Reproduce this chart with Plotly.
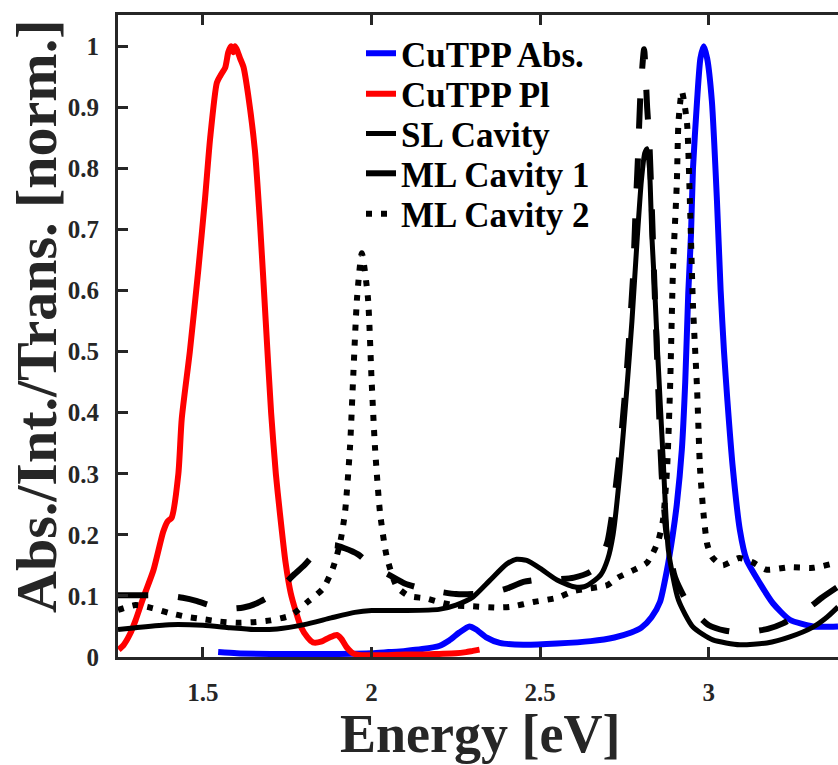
import plotly.graph_objects as go

# ---------------- data ----------------
abs_E = [1.545, 1.6, 1.7, 1.8, 1.9, 2.0, 2.05, 2.1, 2.15, 2.2, 2.23, 2.26, 2.29, 2.31, 2.34,
         2.38, 2.45, 2.55, 2.65, 2.72, 2.77, 2.80, 2.83, 2.855, 2.875, 2.893, 2.905, 2.92,
         2.93, 2.939, 2.947, 2.953, 2.965, 2.975, 2.985, 2.995, 3.009, 3.024, 3.035, 3.045,
         3.055, 3.071, 3.092, 3.112, 3.151, 3.19, 3.24, 3.309, 3.383]
abs_v = [0.008, 0.006, 0.005, 0.005, 0.005, 0.006, 0.008, 0.010, 0.013, 0.018, 0.027, 0.040,
         0.050, 0.045, 0.032, 0.023, 0.020, 0.022, 0.026, 0.032, 0.040, 0.048, 0.065, 0.090,
         0.140, 0.200, 0.250, 0.340, 0.450, 0.596, 0.690, 0.800, 0.910, 0.980, 1.000, 0.980,
         0.910, 0.748, 0.600, 0.500, 0.420, 0.310, 0.208, 0.159, 0.121, 0.088, 0.061, 0.050,
         0.050]

pl_E = [1.25, 1.265, 1.284, 1.30, 1.323, 1.353, 1.382, 1.395, 1.407, 1.427, 1.437, 1.461,
        1.486, 1.506, 1.521, 1.541, 1.552, 1.566, 1.575, 1.583, 1.590, 1.595, 1.600, 1.610,
        1.620, 1.634, 1.654, 1.669, 1.686, 1.702, 1.716, 1.728, 1.745, 1.760, 1.775, 1.79,
        1.81, 1.826, 1.85, 1.875, 1.897, 1.91, 1.926, 1.945, 1.97, 2.0, 2.05, 2.1, 2.15,
        2.2, 2.25, 2.28, 2.30, 2.32]
pl_v = [0.012, 0.020, 0.038, 0.060, 0.097, 0.142, 0.205, 0.222, 0.228, 0.300, 0.390, 0.500,
        0.633, 0.750, 0.848, 0.940, 0.952, 0.965, 0.990, 1.000, 0.990, 1.000, 0.995, 0.980,
        0.966, 0.920, 0.829, 0.711, 0.550, 0.400, 0.300, 0.236, 0.154, 0.105, 0.075, 0.050,
        0.032, 0.024, 0.025, 0.032, 0.036, 0.030, 0.016, 0.006, 0.003, 0.003, 0.003, 0.004,
        0.004, 0.005, 0.006, 0.008, 0.010, 0.012]

sl_E = [1.248, 1.30, 1.40, 1.50, 1.58, 1.65, 1.72, 1.80, 1.88, 1.95, 2.0, 2.1, 2.2, 2.25,
        2.3, 2.35, 2.40, 2.43, 2.46, 2.50, 2.55, 2.60, 2.63, 2.66, 2.68, 2.70, 2.716, 2.736,
        2.757, 2.772, 2.787, 2.80, 2.81, 2.817, 2.824, 2.831, 2.840, 2.848, 2.864, 2.88,
        2.91, 2.953, 3.012, 3.092, 3.172, 3.24, 3.309, 3.35, 3.383]
sl_v = [0.045, 0.048, 0.053, 0.052, 0.048, 0.045, 0.046, 0.053, 0.064, 0.073, 0.076, 0.076,
        0.078, 0.085, 0.098, 0.125, 0.152, 0.160, 0.158, 0.145, 0.126, 0.115, 0.115, 0.125,
        0.135, 0.160, 0.200, 0.300, 0.440, 0.550, 0.680, 0.780, 0.825, 0.832, 0.800, 0.690,
        0.596, 0.500, 0.330, 0.175, 0.093, 0.049, 0.028, 0.020, 0.023, 0.033, 0.049, 0.065,
        0.082]

ml1_E = [1.248, 1.34, 1.40, 1.44, 1.48, 1.52, 1.57, 1.62, 1.66, 1.70, 1.73, 1.77, 1.80,
         1.83, 1.86, 1.89, 1.92, 1.96, 2.0, 2.05, 2.10, 2.15, 2.2, 2.25, 2.3, 2.35, 2.4,
         2.45, 2.5, 2.55, 2.6, 2.65, 2.68, 2.70, 2.72, 2.74, 2.757, 2.775, 2.782, 2.79,
         2.797, 2.808, 2.817, 2.823, 2.83, 2.838, 2.848, 2.86, 2.875, 2.9, 2.944, 3.0, 3.05,
         3.1, 3.175, 3.22, 3.26, 3.3, 3.335, 3.383]
ml1_v = [0.101, 0.101, 0.100, 0.097, 0.092, 0.085, 0.079, 0.081, 0.088, 0.100, 0.113, 0.135,
         0.150, 0.168, 0.178, 0.183, 0.178, 0.168, 0.150, 0.135, 0.120, 0.112, 0.107, 0.103,
         0.103, 0.105, 0.112, 0.123, 0.127, 0.127, 0.130, 0.140, 0.160, 0.190, 0.260, 0.360,
         0.470, 0.620, 0.720, 0.820, 0.920, 0.995, 0.900, 0.850, 0.750, 0.620, 0.470, 0.300,
         0.200, 0.130, 0.082, 0.052, 0.043, 0.040, 0.046, 0.055, 0.068, 0.082, 0.097, 0.115]

ml2_E = [1.248, 1.30, 1.35, 1.40, 1.45, 1.50, 1.55, 1.60, 1.65, 1.70, 1.76, 1.81, 1.856,
         1.885, 1.906, 1.921, 1.936, 1.945, 1.957, 1.971, 1.989, 2.0, 2.01, 2.025, 2.045,
         2.075, 2.11, 2.16, 2.2, 2.25, 2.3, 2.37, 2.41, 2.48, 2.55, 2.6, 2.7, 2.73, 2.78,
         2.816, 2.834, 2.85, 2.864, 2.876, 2.885, 2.894, 2.905, 2.91, 2.92, 2.935, 2.944,
         2.953, 2.965, 2.974, 2.985, 2.995, 3.009, 3.04, 3.09, 3.13, 3.17, 3.24, 3.31, 3.383]
ml2_v = [0.077, 0.085, 0.080, 0.072, 0.066, 0.062, 0.058, 0.056, 0.057, 0.060, 0.068, 0.090,
         0.112, 0.145, 0.185, 0.236, 0.344, 0.453, 0.589, 0.661, 0.589, 0.453, 0.344, 0.236,
         0.164, 0.115, 0.100, 0.096, 0.090, 0.084, 0.083, 0.081, 0.082, 0.090, 0.097, 0.108,
         0.118, 0.130, 0.143, 0.154, 0.170, 0.190, 0.224, 0.307, 0.440, 0.640, 0.775, 0.876,
         0.926, 0.876, 0.742, 0.575, 0.440, 0.307, 0.230, 0.185, 0.164, 0.150, 0.162, 0.155,
         0.143, 0.147, 0.146, 0.155]

series_names = ["CuTPP Abs.", "CuTPP Pl", "SL Cavity", "ML Cavity 1", "ML Cavity 2"]
x_ticks = [1.5, 2, 2.5, 3]
x_tick_labels = ["1.5", "2", "2.5", "3"]
y_ticks = [0, 0.1, 0.2, 0.3, 0.4, 0.5, 0.6, 0.7, 0.8, 0.9, 1]
y_tick_labels = ["0", "0.1", "0.2", "0.3", "0.4", "0.5", "0.6", "0.7", "0.8", "0.9", "1"]
x_title = "Energy [eV]"
y_title = "Abs./Int./Trans. [norm.]"

# ---------------- figure ----------------
FONT = "Liberation Serif"
AX = "#262626"

fig = go.Figure()
styles = [
    (abs_E, abs_v, "#0000FF", "solid", 6),
    (pl_E, pl_v, "#FF0000", "solid", 6),
    (sl_E, sl_v, "#000000", "solid", 5),
    (ml1_E, ml1_v, "#000000", "30px,30px", 6),
    (ml2_E, ml2_v, "#000000", "6px,9px", 6),
]
legend_ids = ["legend", "legend2", "legend3", "legend4", "legend5"]
for name, lg, (xs, ys, col, dash, w) in zip(series_names, legend_ids, styles):
    fig.add_trace(go.Scatter(x=xs, y=ys, mode="lines", name=name, legend=lg,
                             line=dict(color=col, width=w, dash=dash,
                                       shape="spline", smoothing=0.6)))

legend_font = dict(family=FONT, size=35, color="#000000", weight="bold")
legend_tops = [0.986, 0.923, 0.861, 0.799, 0.736]
legend_layout = {}
for lg, yt in zip(legend_ids, legend_tops):
    legend_layout[lg] = dict(x=0.3375, y=yt, xanchor="left", yanchor="top",
                             bgcolor="rgba(0,0,0,0)", font=legend_font)

fig.update_layout(
    width=838, height=765,
    margin=dict(l=118, r=0, t=15, b=108),
    paper_bgcolor="white", plot_bgcolor="white",
    font=dict(family=FONT, color=AX),
    showlegend=True,
    **legend_layout,
    xaxis=dict(range=[1.248, 3.383], tickvals=x_ticks, ticktext=x_tick_labels,
               ticks="inside", ticklen=10, tickwidth=3, tickcolor=AX,
               showline=True, linewidth=3, linecolor=AX, mirror="ticks",
               showgrid=False, zeroline=False, ticklabelstandoff=11,
               tickfont=dict(family=FONT, size=25, color=AX, weight="bold")),
    yaxis=dict(range=[0, 1.051], tickvals=y_ticks, ticktext=y_tick_labels,
               ticks="inside", ticklen=10, tickwidth=3, tickcolor=AX,
               showline=True, linewidth=3, linecolor=AX, mirror=False,
               showgrid=False, zeroline=False, ticklabelstandoff=11,
               tickfont=dict(family=FONT, size=25, color=AX, weight="bold")),
    yaxis2=dict(range=[0, 1.051], tickvals=y_ticks, overlaying="y", side="right",
                ticks="inside", ticklen=4, tickwidth=3, tickcolor=AX,
                showticklabels=False, showline=False, showgrid=False, zeroline=False),
    annotations=[
        dict(text=x_title, xref="paper", yref="paper", x=0.5028, y=-0.1205,
             xanchor="center", yanchor="middle", showarrow=False,
             font=dict(family=FONT, size=54, color=AX, weight="bold")),
        dict(text=y_title, xref="paper", yref="paper", x=-0.1125, y=0.5296,
             xanchor="center", yanchor="middle", showarrow=False, textangle=-90,
             font=dict(family=FONT, size=58, color=AX, weight="bold")),
    ],
)

fig.write_html("out.html")
